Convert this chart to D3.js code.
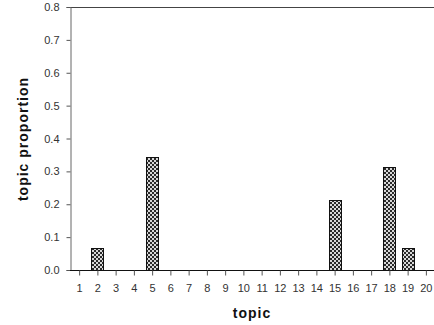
<!DOCTYPE html>
<html><head><meta charset="utf-8">
<script src="https://cdn.jsdelivr.net/npm/d3@7"></script>
<style>body{margin:0;background:#fff}svg{display:block}</style>
</head><body>
<script>
const topics = d3.range(1, 21).map(String);
const proportions = [0, 0.066, 0, 0, 0.345, 0, 0, 0, 0, 0, 0, 0, 0, 0, 0.213, 0, 0, 0.312, 0.066, 0];
const yTicks = [0, 0.1, 0.2, 0.3, 0.4, 0.5, 0.6, 0.7, 0.8];

const W = 434, H = 325;
const m = {l: 70, r: -1, t: 7, b: 55};
const svg = d3.select("body").append("svg").attr("width", W).attr("height", H);

const defs = svg.append("defs");
const pat = defs.append("pattern").attr("id", "chk").attr("patternUnits", "userSpaceOnUse")
  .attr("width", 4).attr("height", 4);
pat.append("rect").attr("width", 4).attr("height", 4).attr("fill", "#d8d8d8");
pat.append("rect").attr("width", 2).attr("height", 2).attr("fill", "#2a2a2a");
pat.append("rect").attr("x", 2).attr("y", 2).attr("width", 2).attr("height", 2).attr("fill", "#2a2a2a");

const x = d3.scaleBand().domain(topics).range([m.l, W - m.r]).paddingInner(0.34).paddingOuter(0.17);
const y = d3.scaleLinear().domain([0, 0.8]).range([270, m.t]);

// top frame line
svg.append("line").attr("x1", m.l).attr("x2", W).attr("y1", y(0.8) + 0.5).attr("y2", y(0.8) + 0.5)
  .attr("stroke", "#444").attr("stroke-width", 1);

// y axis
const ya = svg.append("g").attr("transform", `translate(${m.l + 0.5},0)`)
  .call(d3.axisLeft(y).tickValues(yTicks).tickFormat(d3.format(".1f")).tickSize(4).tickPadding(7));
ya.select(".domain").attr("stroke", "#666");
ya.selectAll(".tick line").attr("stroke", "#555");
ya.selectAll("text").attr("font-family", "Arial, Liberation Sans, sans-serif").attr("font-size", 11).attr("fill", "#333");

// bars
svg.append("g").selectAll("rect").data(topics.map((t, i) => ({t, v: proportions[i]})).filter(d => d.v > 0))
  .join("rect")
  .attr("x", d => Math.round(x(d.t)) + 0.5)
  .attr("y", d => Math.round(y(d.v)) + 0.5)
  .attr("width", Math.round(x.bandwidth()))
  .attr("height", d => Math.round(y(0) - y(d.v)))
  .attr("fill", "url(#chk)").attr("stroke", "#111").attr("stroke-width", 1);

// x axis
const xp = d3.scalePoint().domain(topics).range([x(topics[0]) + x.bandwidth() / 2, x(topics[19]) + x.bandwidth() / 2]);
const xa = svg.append("g").attr("transform", `translate(0,${y(0) + 0.5})`)
  .call(d3.axisBottom(xp).tickSize(5).tickSizeOuter(0).tickPadding(9));
xa.select(".domain").attr("d", `M${m.l},0H${W}`).attr("stroke", "#111");
xa.selectAll(".tick line").attr("stroke", "#555");
xa.selectAll("text").attr("font-family", "Arial, Liberation Sans, sans-serif").attr("font-size", 11).attr("fill", "#333");

// titles
svg.append("text").attr("transform", `translate(28,139) rotate(-90)`).attr("text-anchor", "middle")
  .attr("font-family", "Arial, Liberation Sans, sans-serif").attr("font-weight", "bold").attr("font-size", 14)
  .attr("letter-spacing", 1).attr("fill", "#111").text("topic proportion");
svg.append("text").attr("x", 252).attr("y", 318).attr("text-anchor", "middle")
  .attr("font-family", "Arial, Liberation Sans, sans-serif").attr("font-weight", "bold").attr("font-size", 14)
  .attr("letter-spacing", 1).attr("fill", "#111").text("topic");
</script>
</body></html>
